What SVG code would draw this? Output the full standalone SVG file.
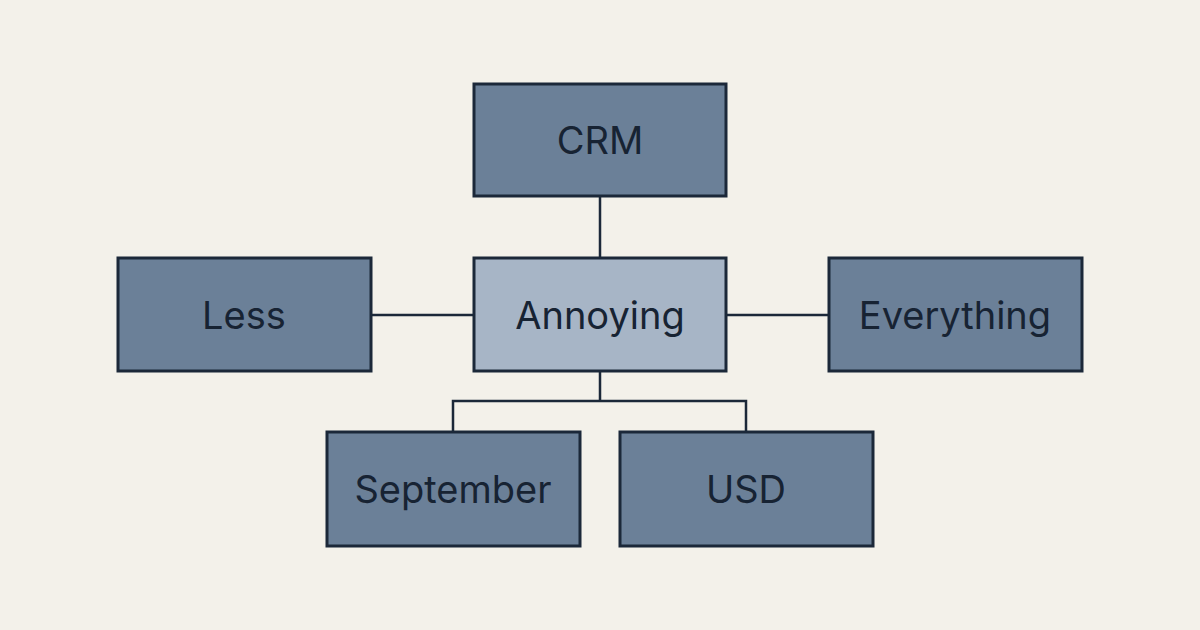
<svg xmlns="http://www.w3.org/2000/svg" width="1200" height="630" viewBox="0 0 1200 630">
<style>
.n{fill:#6b8098;stroke:#1b2839;stroke-width:3}
.c{fill:#a7b5c6}
.t{font-family:Inter,"Liberation Sans",sans-serif;font-size:38px;fill:#172333;text-anchor:middle;dominant-baseline:central}
.e{fill:none;stroke:#1b2839;stroke-width:2.5}
</style>
<rect width="1200" height="630" fill="#f3f1ea"/>
<g id="connectors">
<path class="e" d="M600 196V258M371 315H474M726 315H829M600 371V401M453 432V401H746V432"/>
</g>
<g id="crm"><rect class="n" x="474" y="84" width="252" height="112"/><text class="t" x="600" y="140">CRM</text></g>
<g id="less"><rect class="n" x="118" y="258" width="253" height="113"/><text class="t" x="244" y="315">Less</text></g>
<g id="annoying"><rect class="n c" x="474" y="258" width="252" height="113"/><text class="t" x="600" y="315">Annoying</text></g>
<g id="everything"><rect class="n" x="829" y="258" width="253" height="113"/><text class="t" x="955" y="315">Everything</text></g>
<g id="september"><rect class="n" x="327" y="432" width="253" height="114"/><text class="t" x="453" y="489">September</text></g>
<g id="usd"><rect class="n" x="620" y="432" width="253" height="114"/><text class="t" x="746" y="489">USD</text></g>
</svg>
